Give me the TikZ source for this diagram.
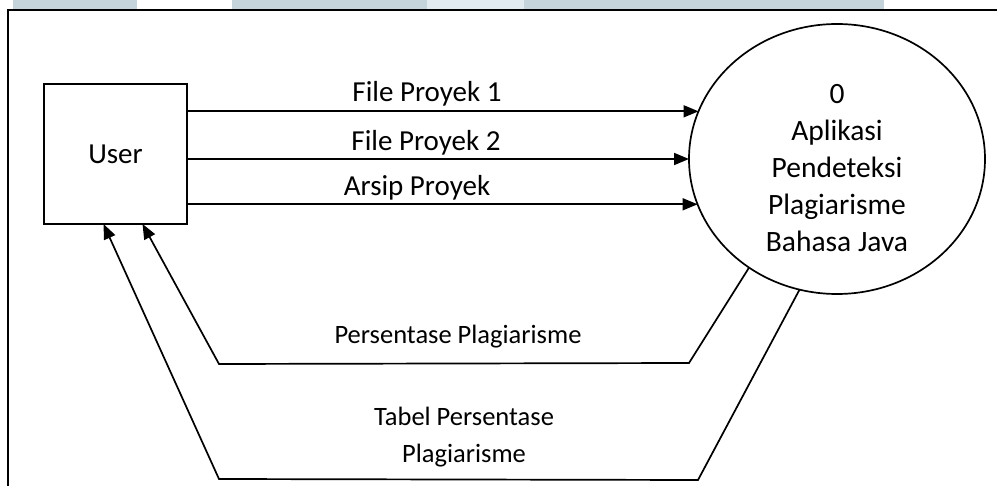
\documentclass[tikz,border=0pt]{standalone}
\usepackage{fontspec}
\setmainfont{Carlito}
\usetikzlibrary{arrows.meta,shapes.geometric}
\definecolor{band}{RGB}{197,212,218}
\definecolor{bandlight}{RGB}{226,236,240}

\begin{document}
\begin{tikzpicture}[x=1pt,y=-1pt,line width=1.7pt,
    flow/.style={-{Triangle[length=15pt,width=12pt]}},
    toplbl/.style={font=\fontsize{29}{35}\selectfont,inner sep=0pt},
    botlbl/.style={font=\fontsize{26.5}{37}\selectfont,inner sep=0pt,align=center}]
  \useasboundingbox (0,0) rectangle (997,486);
  % strip at the top of the page
  \fill[band] (13,0) rectangle (137,9);
  \fill[band] (232,0) rectangle (427,9);
  \fill[bandlight] (427,0) rectangle (524,9);
  \fill[band] (524,0) rectangle (884,9);
  \draw (8,486) -- (8,10) -- (997,10);

  \node[draw,minimum width=143,minimum height=140,inner sep=0,outer sep=0,
        font=\fontsize{29}{35}\selectfont] (user) at (115.5,154) {User};
  \node[ellipse,draw,minimum width=296,minimum height=270,inner sep=0,outer sep=0,
        label={[name=proctext,yshift=-9,inner sep=0,align=center,
                font=\fontsize{29.5}{37}\selectfont]center:{0\\Aplikasi\\Pendeteksi\\Plagiarisme\\Bahasa Java}}]
        (proc) at (837,159) {};

  % flows into the process
  \coordinate (in1) at (proc.161);
  \coordinate (in2) at (proc.180);
  \coordinate (in3) at (proc.198);
  \draw[flow] (user.east |- in1) -- (in1);
  \draw[flow] (user.east |- in2) -- (in2);
  \draw[flow] (user.east |- in3) -- (in3);
  \node[toplbl] (l1) at (427,94) {File Proyek 1};
  \node[toplbl] (l2) at (426,143) {File Proyek 2};
  \node[toplbl] (l3) at (417,188) {Arsip Proyek};

  % flows back to the user
  \coordinate (b1) at (689,363);
  \coordinate (b2) at (219,364);
  \coordinate (c1) at (698,480);
  \coordinate (c2) at (219,479);
  \draw[flow] (proc.231) -- (b1) -- (b2) -- ([xshift=27]user.south);
  \draw[flow] (proc.254) -- (c1) -- (c2) -- ([xshift=-12]user.south);
  \node[botlbl] (l4) at (458,337) {Persentase Plagiarisme};
  \node[botlbl] (l5) at (464,437) {Tabel Persentase\\Plagiarisme};
\end{tikzpicture}
\end{document}
